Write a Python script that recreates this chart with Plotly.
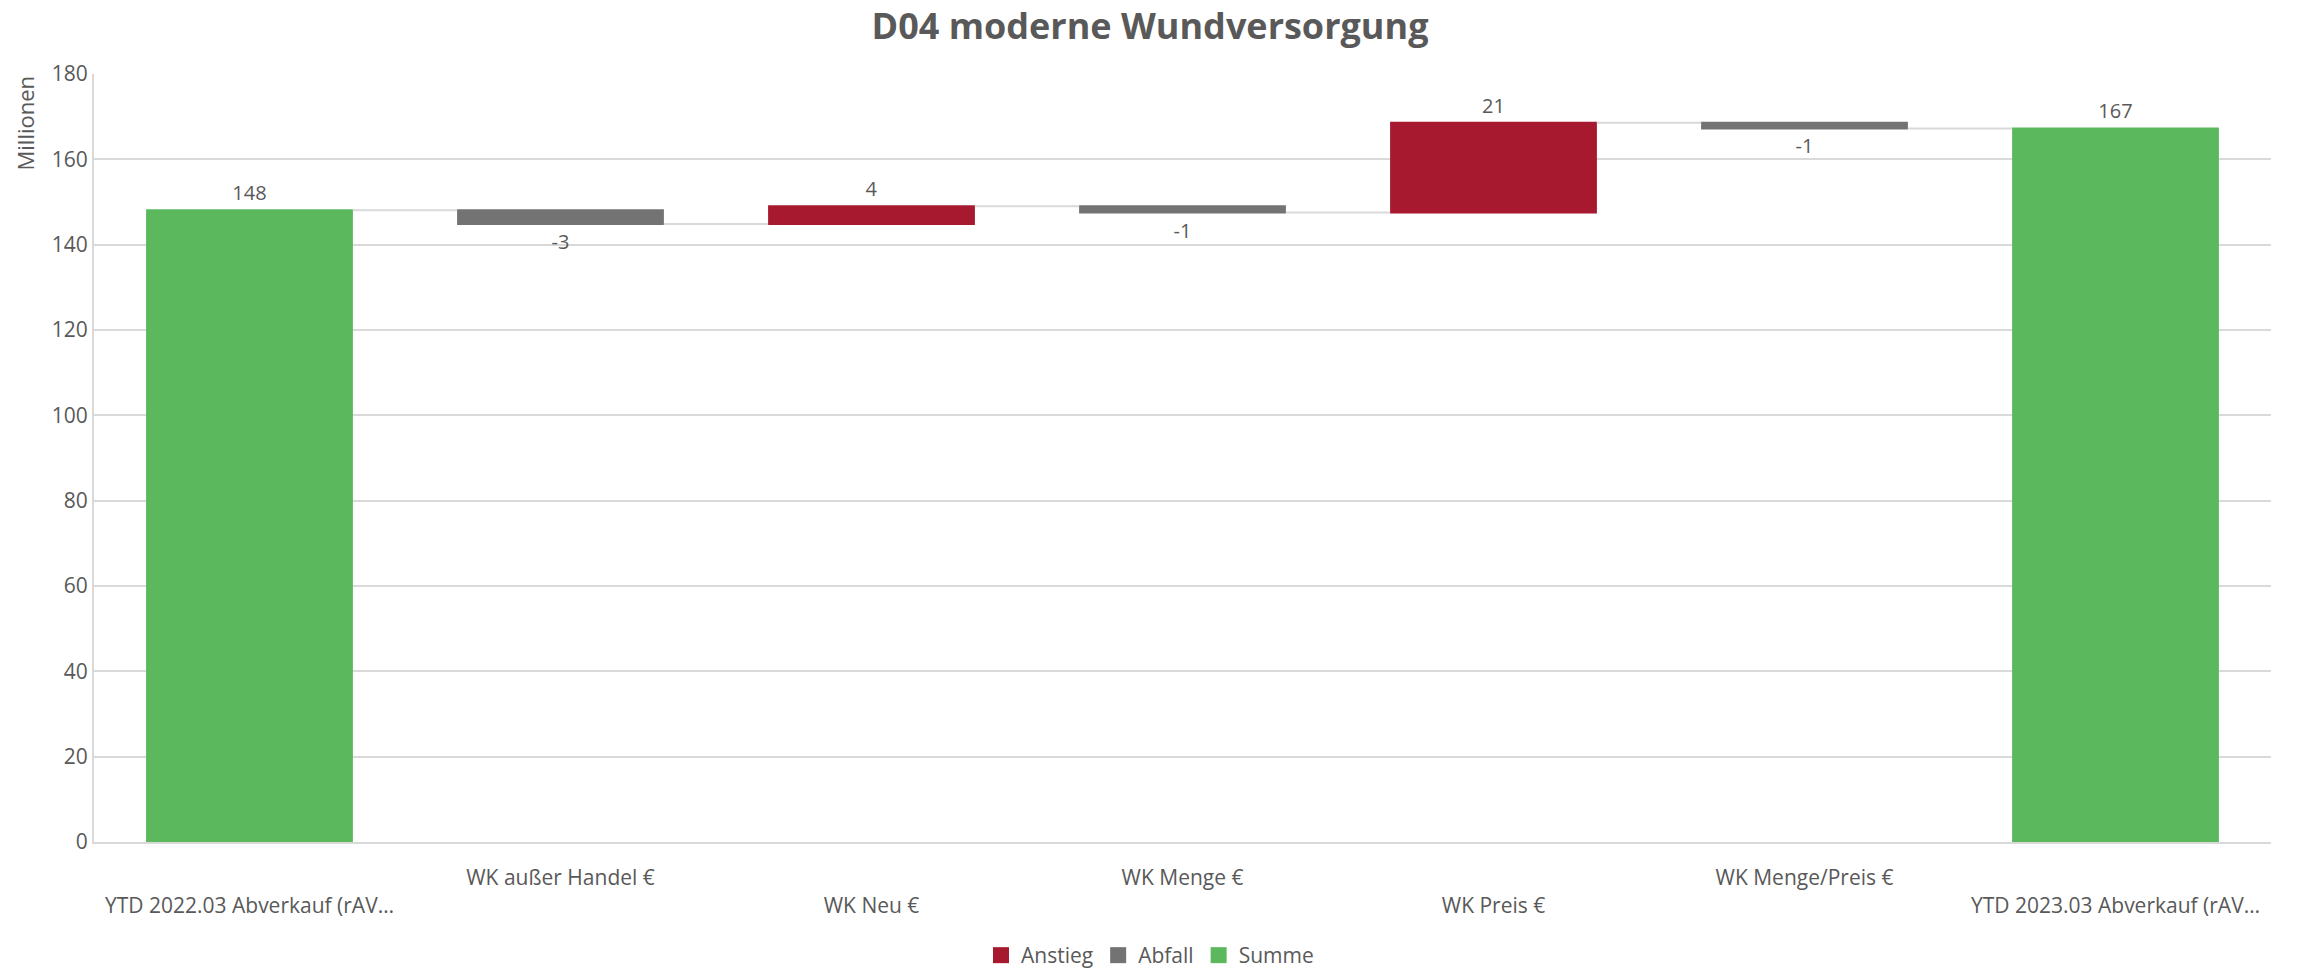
import plotly.graph_objects as go

categories = [
    "YTD 2022.03 Abverkauf (rAV…",
    "WK außer Handel €",
    "WK Neu €",
    "WK Menge €",
    "WK Preis €",
    "WK Menge/Preis €",
    "YTD 2023.03 Abverkauf (rAV…",
]
values = [148.05, -3.2, 4.15, -1.48, 21.03, -1.31, None]
measures = ["absolute", "relative", "relative", "relative", "relative", "relative", "total"]
legend_names = ["Anstieg", "Abfall", "Summe"]

C_UP = "#A6192E"
C_DOWN = "#737373"
C_TOTAL = "#5CB85C"
TXT = "#595959"
FONT = "Open Sans"

# text labels derived from values
running = 0.0
labels = []
for v, m in zip(values, measures):
    if m == "total":
        labels.append(f"{running:.0f}")
    else:
        running += v
        labels.append(f"{v:.0f}")

ids = list(range(len(categories)))
ticktext = [("<br>" + c) if i % 2 == 0 else c for i, c in enumerate(categories)]

fig = go.Figure()
fig.add_trace(go.Waterfall(
    x=ids,
    y=[v if v is not None else 0 for v in values],
    measure=measures,
    text=labels,
    textposition="outside",
    textfont=dict(family=FONT, size=20, color=TXT),
    increasing=dict(marker=dict(color=C_UP)),
    decreasing=dict(marker=dict(color=C_DOWN)),
    totals=dict(marker=dict(color=C_TOTAL)),
    connector=dict(line=dict(color="#d9d9d9", width=2)),
    cliponaxis=False,
    showlegend=False,
    hoverinfo="skip",
))
for name, col in zip(legend_names, [C_UP, C_DOWN, C_TOTAL]):
    fig.add_trace(go.Scatter(
        x=[None], y=[None], mode="markers", name=name,
        marker=dict(symbol="square", size=18, color=col),
    ))

fig.update_layout(
    width=2300, height=976,
    paper_bgcolor="white", plot_bgcolor="white",
    margin=dict(l=94, r=29, t=74, b=134, autoexpand=False),
    font=dict(family=FONT, size=20, color=TXT),
    waterfallgap=0.335,
    title=dict(
        text="<b>D04 moderne Wundversorgung</b>",
        font=dict(family=FONT, size=36, color=TXT),
        x=0.5, xref="container", xanchor="center",
        y=1 - 26 / 976, yref="container", yanchor="middle",
    ),
    xaxis=dict(
        tickmode="array", tickvals=ids, ticktext=ticktext,
        range=[-0.5, len(categories) - 0.5],
        showgrid=False, showline=True, linecolor="#d9d9d9", linewidth=2,
        ticks="", ticklabelstandoff=16,
        tickfont=dict(family=FONT, size=21, color=TXT),
        tickangle=0, automargin=False,
    ),
    yaxis=dict(
        range=[0, 180], dtick=20, tick0=0,
        showgrid=True, gridcolor="#d9d9d9", gridwidth=2,
        showline=True, linecolor="#d9d9d9", linewidth=2,
        zeroline=False, ticks="", automargin=False,
        tickfont=dict(family=FONT, size=21, color=TXT),
    ),
    legend=dict(
        orientation="h", xref="container", yref="container",
        x=0.5, xanchor="center", y=0.0, yanchor="bottom",
        font=dict(family=FONT, size=21, color=TXT),
        itemclick=False,
    ),
    annotations=[dict(
        text="Millionen", textangle=-90, showarrow=False,
        xref="paper", yref="paper",
        x=(24 - 94) / 2177, xanchor="center",
        y=1.0, yanchor="top",
        font=dict(family=FONT, size=22, color=TXT),
    )],
)

fig.write_html(
    "out.html",
    config={"displayModeBar": False},
    post_script="document.body.style.margin='0';",
)
